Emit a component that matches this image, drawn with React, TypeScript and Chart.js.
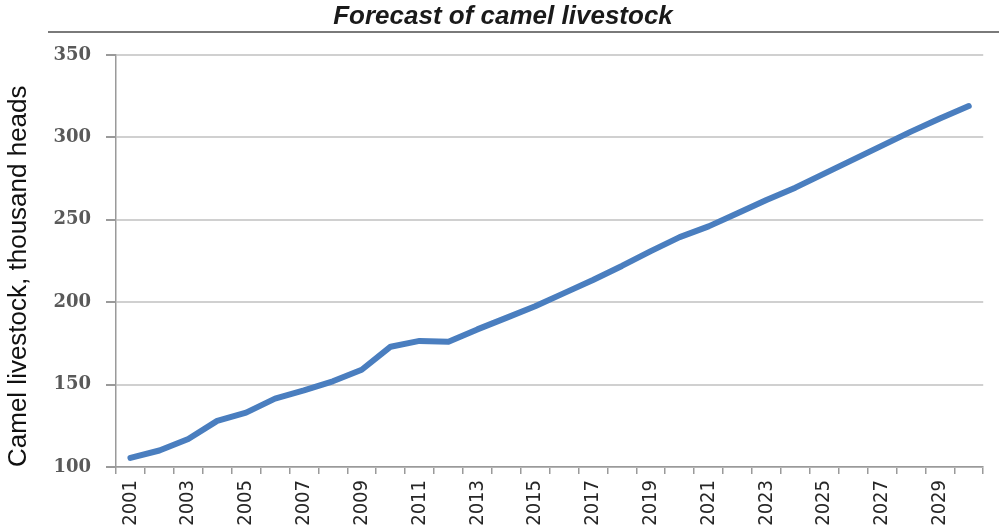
import React, { useEffect, useRef } from "react";
import { Chart, registerables } from "chart.js";

Chart.register(...registerables);

const years: string[] = [
  "2001", "2002", "2003", "2004", "2005", "2006", "2007", "2008", "2009", "2010",
  "2011", "2012", "2013", "2014", "2015", "2016", "2017", "2018", "2019", "2020",
  "2021", "2022", "2023", "2024", "2025", "2026", "2027", "2028", "2029", "2030",
];

const camelLivestock: number[] = [
  105.5, 110, 117, 128, 133, 141.5, 146.5, 152, 159, 173,
  176.5, 176, 183.5, 190.5, 197.5, 205.5, 213.5, 222, 231, 239.5,
  246, 254, 262, 269.5, 278, 286.5, 295, 303.5, 311.5, 319,
];

const yMin = 100;
const yMax = 350;
const yStep = 50;

const chartTitle = "Forecast of camel livestock";
const yAxisTitle = "Camel livestock, thousand heads";

const topRulePlugin = {
  id: "topRule",
  afterDraw(chart: any) {
    const ctx = chart.ctx;
    ctx.save();
    ctx.strokeStyle = "#7a7a7a";
    ctx.lineWidth = 2;
    ctx.beginPath();
    ctx.moveTo(48, 32);
    ctx.lineTo(chart.width, 32);
    ctx.stroke();
    ctx.restore();
  },
};

export default function App() {
  const canvasRef = useRef<HTMLCanvasElement | null>(null);

  useEffect(() => {
    const canvas = canvasRef.current;
    if (!canvas) return;
    const chart = new Chart(canvas, {
      type: "line",
      data: {
        labels: years,
        datasets: [
          {
            label: "Camel livestock",
            data: camelLivestock,
            borderColor: "#4a7ebf",
            backgroundColor: "#4a7ebf",
            borderWidth: 6,
            pointRadius: 0,
            pointHoverRadius: 0,
            tension: 0,
            borderJoinStyle: "round",
            borderCapStyle: "round",
            fill: false,
          },
        ],
      },
      options: {
        animation: false,
        responsive: false,
        maintainAspectRatio: false,
        layout: { padding: { left: 21, right: 14, top: 0, bottom: 0 } },
        plugins: {
          legend: { display: false },
          tooltip: { enabled: false },
          title: {
            display: true,
            text: chartTitle,
            color: "#1a1a1a",
            font: { family: "'Liberation Sans', Arial, sans-serif", size: 26, weight: "bold", style: "italic", lineHeight: 1.2 },
            padding: { top: 1.4, bottom: 22.4 },
          },
        },
        scales: {
          x: {
            type: "category",
            offset: true,
            grid: {
              display: true,
              drawOnChartArea: false,
              drawTicks: true,
              tickLength: 7,
              offset: true,
              color: "#9a9a9a",
              tickColor: "#9a9a9a",
              lineWidth: 1.5,
            },
            border: { display: true, color: "#9a9a9a", width: 1.5 },
            ticks: {
              autoSkip: false,
              maxRotation: 90,
              minRotation: 90,
              padding: 6,
              color: "#262626",
              font: { family: "'Liberation Sans Narrow', 'DejaVu Sans Condensed', 'Liberation Sans', sans-serif", size: 20 },
              callback: (_v: any, i: number) => (i % 2 === 0 ? years[i] : ""),
            },
            afterFit: (scale: any) => {
              scale.height = 62;
            },
          },
          y: {
            min: yMin,
            max: yMax,
            ticks: {
              stepSize: yStep,
              padding: 15,
              color: "#595959",
              font: { family: "'DejaVu Serif', serif", size: 18, weight: "bold" },
            },
            grid: {
              color: "#d0d0d0",
              lineWidth: 2,
              tickLength: 10,
              tickColor: "#9a9a9a",
              drawTicks: true,
            },
            border: { display: true, color: "#9a9a9a", width: 1.5 },
            title: {
              display: true,
              text: yAxisTitle,
              align: "start",
              color: "#111111",
              font: { family: "'Liberation Sans', Arial, sans-serif", size: 26, lineHeight: 1.2 },
              padding: { top: -17.6, bottom: 0 },
            },
            afterFit: (scale: any) => {
              scale.width = 95;
            },
          },
        },
      },
      plugins: [topRulePlugin],
    } as any);
    return () => chart.destroy();
  }, []);

  return (
    <div style={{ position: "absolute", left: 0, top: 0, width: 999, height: 529, background: "#ffffff" }}>
      <canvas ref={canvasRef} width={999} height={529} style={{ display: "block", width: 999, height: 529 }} />
    </div>
  );
}
